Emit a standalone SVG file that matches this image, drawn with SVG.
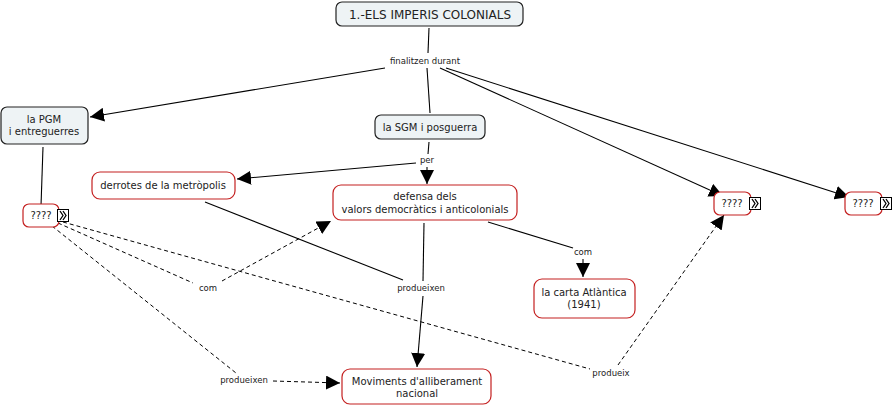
<svg xmlns="http://www.w3.org/2000/svg" width="895" height="406" viewBox="0 0 895 406">
<defs>
<marker id="ah" viewBox="0 0 10 10" refX="10" refY="5" markerWidth="10" markerHeight="10" markerUnits="userSpaceOnUse" orient="auto">
<path d="M0,0 L10,5 L0,10 Z" fill="#000"/>
</marker>
<marker id="ahb" viewBox="0 0 10 10" refX="10" refY="5" markerWidth="14" markerHeight="14" markerUnits="userSpaceOnUse" orient="auto">
<path d="M0,0 L10,5 L0,10 Z" fill="#000"/>
</marker>
</defs>
<style>
.blue{fill:#eef3f5;stroke:#222;stroke-width:1.2}
.red{fill:#fff;stroke:#c42020;stroke-width:1.2}
.t{font-family:"DejaVu Sans",Verdana,sans-serif;font-size:10px;fill:#222;text-anchor:middle}
.lb{font-family:"DejaVu Sans",Verdana,sans-serif;font-size:8.5px;fill:#222;text-anchor:middle}
.c{fill:none;stroke:#000;stroke-width:1.1}
.d{fill:none;stroke:#000;stroke-width:1;stroke-dasharray:4,3}
.ic{fill:#fff;stroke:#000;stroke-width:1}
</style>
<rect width="895" height="406" fill="#fff"/>
<g id="connectors">
<line class="c" x1="429" y1="28" x2="428" y2="53"/>
<line class="c" x1="427" y1="68" x2="430" y2="113"/>
<line class="c" x1="385" y1="68" x2="90" y2="117" marker-end="url(#ahb)"/>
<line class="c" x1="440" y1="68" x2="723" y2="196" marker-end="url(#ahb)"/>
<line class="c" x1="446" y1="68" x2="849" y2="197" marker-end="url(#ahb)"/>
<line class="c" x1="429" y1="142" x2="428" y2="154"/>
<line class="c" x1="427" y1="167" x2="427" y2="184" marker-end="url(#ahb)"/>
<line class="c" x1="416" y1="163" x2="237" y2="179" marker-end="url(#ahb)"/>
<line class="c" x1="43" y1="147" x2="41" y2="206"/>
<line class="c" x1="205" y1="202" x2="403" y2="280"/>
<line class="c" x1="424" y1="223" x2="423" y2="281"/>
<line class="c" x1="423" y1="296" x2="417" y2="367" marker-end="url(#ahb)"/>
<line class="c" x1="488" y1="222" x2="573" y2="248"/>
<line class="c" x1="583" y1="259" x2="583" y2="277" marker-end="url(#ahb)"/>
<line class="d" x1="58" y1="223" x2="193" y2="283"/>
<line class="d" x1="222" y1="281" x2="331" y2="221" marker-end="url(#ahb)"/>
<line class="d" x1="52" y1="226" x2="236" y2="373"/>
<line class="d" x1="273" y1="381" x2="340" y2="383" marker-end="url(#ahb)"/>
<line class="d" x1="63" y1="222" x2="590" y2="369"/>
<line class="d" x1="618" y1="365" x2="724" y2="215" marker-end="url(#ahb)"/>
</g>
<g id="lbl-finalitzen"><text class="lb" x="425" y="64">finalitzen durant</text></g>
<g id="lbl-per"><text class="lb" x="427" y="163">per</text></g>
<g id="lbl-com1"><text class="lb" x="583" y="255">com</text></g>
<g id="lbl-com2"><text class="lb" x="208" y="291">com</text></g>
<g id="lbl-produeixen1"><text class="lb" x="421" y="291">produeixen</text></g>
<g id="lbl-produeixen2"><text class="lb" x="244" y="383">produeixen</text></g>
<g id="lbl-produeix"><text class="lb" x="611" y="376">produeix</text></g>
<g id="n-title"><rect class="blue" x="336" y="2" width="187" height="24" rx="6"/><text class="t" style="font-size:12px" x="430" y="19">1.-ELS IMPERIS COLONIALS</text></g>
<g id="n-pgm"><rect class="blue" x="1" y="107" width="87" height="37" rx="6"/><text class="t" x="44" y="123">la PGM</text><text class="t" x="44" y="135">i entreguerres</text></g>
<g id="n-sgm"><rect class="blue" x="375" y="115" width="110" height="24" rx="6"/><text class="t" x="430" y="131">la SGM i posguerra</text></g>
<g id="n-derrotes"><rect class="red" x="92" y="172" width="143" height="27" rx="8"/><text class="t" x="163" y="189">derrotes de la metròpolis</text></g>
<g id="n-defensa"><rect class="red" x="333" y="185" width="184" height="35" rx="8"/><text class="t" x="425" y="200">defensa dels</text><text class="t" x="425" y="213">valors democràtics i anticolonials</text></g>
<g id="n-q1"><rect class="red" x="23" y="204" width="36" height="23" rx="6"/><text class="t" x="41" y="219">????</text><rect class="ic" x="57.5" y="209.5" width="11" height="12"/><path d="M60,211 l3,4.5 l-3,4.5 M63,211 l3,4.5 l-3,4.5" fill="none" stroke="#000" stroke-width="1.3"/></g>
<g id="n-q2"><rect class="red" x="714" y="192" width="37" height="23" rx="6"/><text class="t" x="732" y="207">????</text><rect class="ic" x="749.5" y="197.5" width="11" height="12"/><path d="M752,199 l3,4.5 l-3,4.5 M755,199 l3,4.5 l-3,4.5" fill="none" stroke="#000" stroke-width="1.3"/></g>
<g id="n-q3"><rect class="red" x="845" y="192" width="37" height="23" rx="6"/><text class="t" x="863" y="207">????</text><rect class="ic" x="880.5" y="197.5" width="11" height="12"/><path d="M883,199 l3,4.5 l-3,4.5 M886,199 l3,4.5 l-3,4.5" fill="none" stroke="#000" stroke-width="1.3"/></g>
<g id="n-carta"><rect class="red" x="534" y="279" width="101" height="39" rx="8"/><text class="t" x="584" y="296">la carta Atlàntica</text><text class="t" x="584" y="308">(1941)</text></g>
<g id="n-moviments"><rect class="red" x="342" y="369" width="149" height="35" rx="8"/><text class="t" x="417" y="385">Moviments d'alliberament</text><text class="t" x="417" y="397">nacional</text></g>
</svg>
